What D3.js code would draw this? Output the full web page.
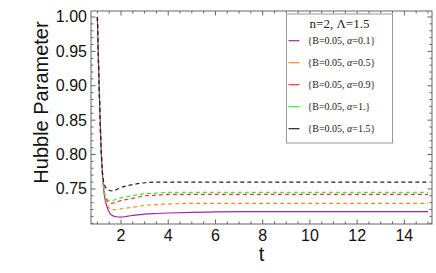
<!DOCTYPE html>
<html lang="en">
<head>
  <meta charset="UTF-8">
  <title>Hubble Parameter</title>
  <script src="https://d3js.org/d3.v7.min.js"></script>
  <style>
    body { margin: 0; background: #fff; }
    svg { display: block; }
    .tick-label { font-family: "Liberation Sans", Arial, sans-serif; font-size: 16px; fill: #111; }
    .axis-title { font-family: "Liberation Sans", Arial, sans-serif; font-size: 20px; fill: #111; }
    .legend-text { font-family: "Liberation Serif", "Times New Roman", serif; fill: #222; }
  </style>
</head>
<body>
  <svg width="436" height="273"></svg>
  <script>
    const width = 436, height = 273;
    const margin = { left: 91, top: 11, right: 4, bottom: 49 };

    // t sample points
    const tValues = [1, 1.05, 1.1, 1.15, 1.2, 1.3, 1.4, 1.5, 1.6, 1.8, 2, 2.3, 2.6, 3, 3.5, 4, 5, 6, 8, 10, 12, 15];

    // Hubble parameter values for each series (alpha)
    const hAlpha01 = [1, 0.93, 0.87, 0.815, 0.78, 0.740, 0.725, 0.716, 0.712, 0.7095, 0.709, 0.7105, 0.712, 0.7135, 0.7143, 0.715, 0.716, 0.7165, 0.717, 0.717, 0.717, 0.717];
    const hAlpha05 = [1, 0.93, 0.87, 0.815, 0.78, 0.742, 0.729, 0.722, 0.720, 0.7197, 0.721, 0.7225, 0.724, 0.726, 0.727, 0.728, 0.729, 0.729, 0.729, 0.729, 0.729, 0.729];
    const hAlpha09 = [1, 0.93, 0.87, 0.815, 0.78, 0.744, 0.734, 0.730, 0.729, 0.731, 0.733, 0.735, 0.737, 0.740, 0.741, 0.742, 0.742, 0.742, 0.742, 0.742, 0.742, 0.742];
    const hAlpha10 = [1, 0.93, 0.87, 0.815, 0.78, 0.745, 0.736, 0.733, 0.733, 0.735, 0.737, 0.739, 0.741, 0.743, 0.744, 0.745, 0.745, 0.745, 0.745, 0.745, 0.745, 0.745];
    const hAlpha15 = [1, 0.93, 0.87, 0.816, 0.782, 0.756, 0.750, 0.748, 0.747, 0.749, 0.752, 0.755, 0.757, 0.759, 0.760, 0.760, 0.760, 0.760, 0.760, 0.760, 0.760, 0.760];

    const legendLabels = ["0.1", "0.5", "0.9", "1.", "1.5"];
    const seriesColors = ["#9b2aa9", "#ff8c1a", "#ff3333", "#33ee33", "#222222"];
    const seriesDash = [null, "4,3", "4,3", "4,3", "4,3"];
    const seriesValues = [hAlpha01, hAlpha05, hAlpha09, hAlpha10, hAlpha15];

    const xTicks = [2, 4, 6, 8, 10, 12, 14];
    const yTicks = [0.75, 0.80, 0.85, 0.90, 0.95, 1.00];

    const svg = d3.select("svg");

    const x = d3.scaleLinear().domain([0.73, 15.17]).range([margin.left, width - margin.right]);
    const y = d3.scaleLinear().domain([0.699, 1.0087]).range([height - margin.bottom, margin.top]);

    const x0 = margin.left, x1 = width - margin.right;
    const y0 = height - margin.bottom, y1 = margin.top;

    // curves
    const line = d3.line()
      .x(d => x(d[0]))
      .y(d => y(d[1]))
      .curve(d3.curveMonotoneX);

    const plot = svg.append("g");
    plot.append("clipPath").attr("id", "clip")
      .append("rect").attr("x", x0).attr("y", y1).attr("width", x1 - x0).attr("height", y0 - y1);

    seriesValues.forEach((vals, i) => {
      plot.append("path")
        .attr("clip-path", "url(#clip)")
        .attr("d", line(tValues.map((t, k) => [t, vals[k]])))
        .attr("fill", "none")
        .attr("stroke", seriesColors[i])
        .attr("stroke-width", 1.2)
        .attr("stroke-dasharray", seriesDash[i]);
    });

    // frame with inward ticks on all sides
    const frame = svg.append("g").attr("stroke", "#666").attr("stroke-width", 1);
    frame.append("rect")
      .attr("x", x0).attr("y", y1).attr("width", x1 - x0).attr("height", y0 - y1)
      .attr("fill", "none");

    const xMinor = d3.range(1, 15.01, 0.5).filter(v => !xTicks.includes(v));
    const yMinor = d3.range(0.70, 1.001, 0.01).filter(v => !yTicks.some(t => Math.abs(t - v) < 1e-6));

    function xTickMarks(vals, len) {
      vals.forEach(v => {
        frame.append("line").attr("x1", x(v)).attr("x2", x(v)).attr("y1", y0).attr("y2", y0 - len);
        frame.append("line").attr("x1", x(v)).attr("x2", x(v)).attr("y1", y1).attr("y2", y1 + len);
      });
    }
    function yTickMarks(vals, len) {
      vals.forEach(v => {
        frame.append("line").attr("y1", y(v)).attr("y2", y(v)).attr("x1", x0).attr("x2", x0 + len);
        frame.append("line").attr("y1", y(v)).attr("y2", y(v)).attr("x1", x1).attr("x2", x1 - len);
      });
    }
    xTickMarks(xTicks, 4.5);
    xTickMarks(xMinor, 2.5);
    yTickMarks(yTicks, 4.5);
    yTickMarks(yMinor, 2.5);

    // tick labels
    svg.append("g").selectAll("text").data(xTicks).join("text")
      .attr("class", "tick-label")
      .attr("x", d => x(d)).attr("y", y0 + 17)
      .attr("text-anchor", "middle")
      .text(d => d);

    svg.append("g").selectAll("text").data(yTicks).join("text")
      .attr("class", "tick-label")
      .attr("x", x0 - 4).attr("y", d => y(d) + 5.5)
      .attr("text-anchor", "end")
      .text(d => d.toFixed(2));

    // axis titles
    svg.append("text").attr("class", "axis-title")
      .attr("x", (x0 + x1) / 2).attr("y", 261)
      .attr("text-anchor", "middle")
      .text("t");

    svg.append("text").attr("class", "axis-title")
      .attr("transform", `translate(48,${(y0 + y1) / 2 - 15}) rotate(-90)`)
      .attr("text-anchor", "middle")
      .text("Hubble Parameter");

    // legend
    const lg = svg.append("g");
    lg.append("rect")
      .attr("x", 286.5).attr("y", 14).attr("width", 106).attr("height", 129)
      .attr("fill", "#fff").attr("stroke", "#999").attr("stroke-width", 1);
    lg.append("text").attr("class", "legend-text")
      .attr("x", 339.5).attr("y", 28)
      .attr("text-anchor", "middle")
      .attr("font-size", 13)
      .text("n=2, Λ=1.5");

    legendLabels.forEach((a, i) => {
      const cy = 40.7 + i * 22;
      lg.append("line")
        .attr("x1", 288.5).attr("x2", 299.5).attr("y1", cy).attr("y2", cy)
        .attr("stroke", seriesColors[i]).attr("stroke-width", 1.2);
      const t = lg.append("text").attr("class", "legend-text")
        .attr("x", 307.5).attr("y", cy + 3.5)
        .attr("font-size", 10);
      t.append("tspan").text("{B=0.05, ");
      t.append("tspan").attr("font-style", "italic").text("α");
      t.append("tspan").text("=" + a + "}");
    });
  </script>
</body>
</html>
